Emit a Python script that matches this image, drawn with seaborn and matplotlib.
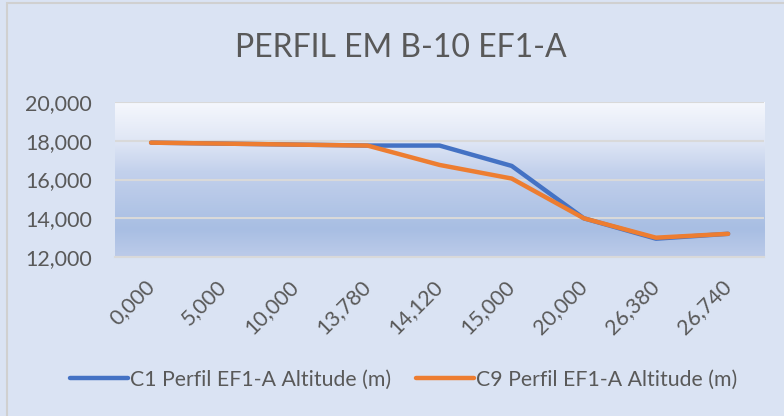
import numpy as np
import pandas as pd
import matplotlib
matplotlib.use("Agg")
import matplotlib.pyplot as plt
from matplotlib.colors import LinearSegmentedColormap
from matplotlib.patches import Rectangle
import seaborn as sns

# Distance stations along the profile and altitude of each survey
stations = ["0,000", "5,000", "10,000", "13,780", "14,120", "15,000", "20,000", "26,380", "26,740"]
c1_altitude = [17900, 17850, 17800, 17750, 17750, 16700, 14000, 12950, 13200]
c9_altitude = [17900, 17850, 17800, 17750, 16750, 16050, 14000, 13000, 13200]
series_names = ["C1 Perfil EF1-A Altitude (m)", "C9 Perfil EF1-A Altitude (m)"]
y_ticks = [12000, 14000, 16000, 18000, 20000]

df = pd.concat([
    pd.DataFrame({"Estaca": stations, "Altitude": c1_altitude, "Série": series_names[0]}),
    pd.DataFrame({"Estaca": stations, "Altitude": c9_altitude, "Série": series_names[1]}),
])

sns.set_theme(style="white")
plt.rcParams["font.family"] = ["Lato", "DejaVu Sans"]

bg = "#dae3f3"
text_col = "#595959"
fig = plt.figure(figsize=(7.84, 4.16), dpi=100, facecolor=bg)
ax = fig.add_axes([0.1467, 0.382, 0.828, 0.373])
ax.set_facecolor("none")

# vertical gradient fill of the plot area
grad = LinearSegmentedColormap.from_list(
    "fill", [(0.0, "#bccbe9"), (0.18, "#a8bee3"), (0.55, "#c3d1ec"),
             (0.74, "#dfe6f5"), (1.0, "#f6f8fd")])
ax.imshow(np.linspace(0, 1, 256).reshape(-1, 1), cmap=grad, aspect="auto",
          extent=(-0.5, 8.5, 12000, 20000), origin="lower", zorder=0)

sns.lineplot(data=df, x="Estaca", y="Altitude", hue="Série",
             palette=["#4472c4", "#ed7d31"], linewidth=3.2, sort=False,
             ax=ax, zorder=3, legend=True)
for ln in ax.get_lines():
    ln.set_solid_capstyle("round")
    ln.set_solid_joinstyle("round")

ax.set_xlim(-0.5, 8.5)
ax.set_ylim(12000, 20000)
ax.set_yticks(y_ticks)
ax.set_yticklabels([f"{v:,}" for v in y_ticks])
ax.grid(axis="y", color="#d9d9d9", linewidth=1.5, zorder=1)
ax.grid(axis="x", visible=False)
ax.set_axisbelow(False)
for s in ["left", "right", "top"]:
    ax.spines[s].set_visible(False)
ax.spines["bottom"].set_color("#d9d9d9")
ax.spines["bottom"].set_linewidth(1.5)
ax.set_xlabel("")
ax.set_ylabel("")
ax.tick_params(axis="y", labelsize=15.5, colors=text_col, length=0, pad=16.5)
ax.tick_params(axis="x", labelsize=15.5, colors=text_col, length=0, pad=19)
for lbl in ax.get_xticklabels():
    lbl.set_rotation(45)
    lbl.set_ha("right")
    lbl.set_va("center")
    lbl.set_rotation_mode("anchor")

fig.suptitle("PERFIL EM B-10 EF1-A", x=0.511, y=0.92, fontsize=23,
             color=text_col, fontweight="normal")

handles, labels = ax.get_legend_handles_labels()
ax.legend_.remove()
fig.legend(handles, labels, loc="center", bbox_to_anchor=(0.515, 0.087), ncol=2,
           frameon=False, fontsize=15.3, labelcolor=text_col, handlelength=2.7,
           handletextpad=0.1, columnspacing=1.2)

fig.add_artist(Rectangle((0.009, -0.05), 1.1, 1.043, transform=fig.transFigure,
                         fill=False, edgecolor="#d0d0d0", linewidth=1.5))

fig.savefig("out.png", dpi=100, facecolor=bg)
